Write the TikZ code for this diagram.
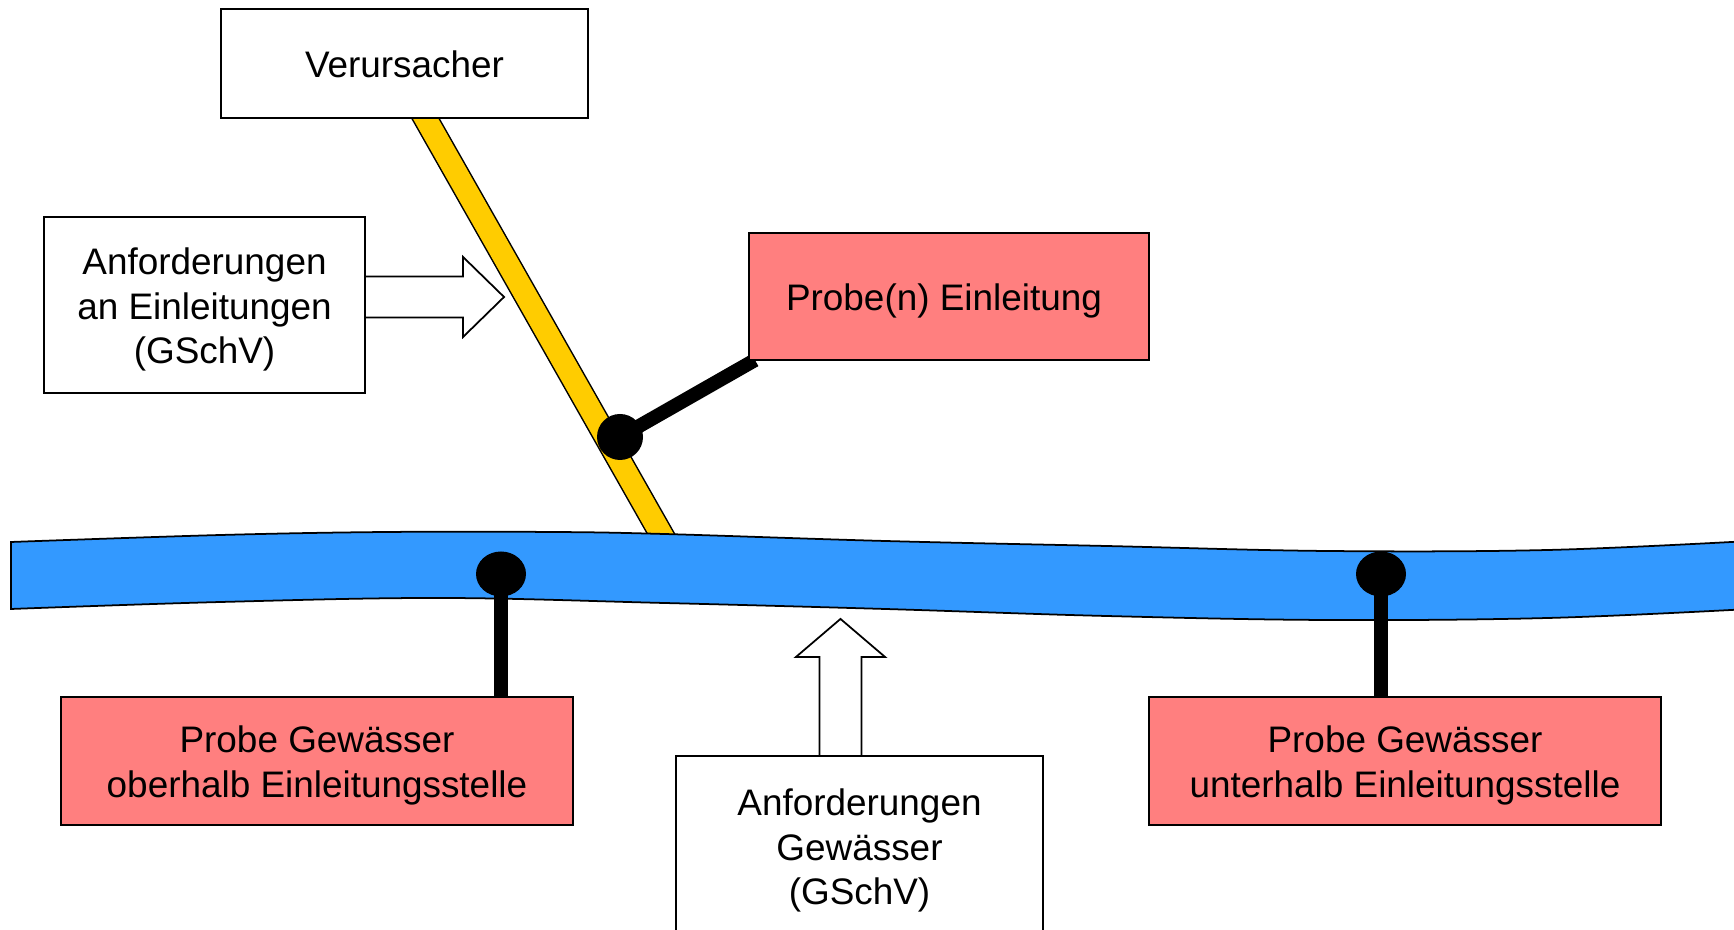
\documentclass[tikz,border=0pt]{standalone}
\usepackage{fontspec}
\setmainfont{Liberation Sans}
\usetikzlibrary{calc,shapes.geometric,backgrounds}
\definecolor{riverblue}{HTML}{3399FF}
\definecolor{pipeyellow}{HTML}{FFCC00}
\definecolor{probered}{HTML}{FF7F7F}
\newcommand{\boxtext}[1]{\raisebox{-1.5pt}[\height][\depth]{\begin{tabular}{@{}c@{}}#1\end{tabular}}}

\begin{document}
\begin{tikzpicture}[
  box/.style={draw, fill=white, line width=0.6pt, inner sep=0pt,
    font=\fontsize{10.5}{12.7}\selectfont},
  probebox/.style={box, fill=probered},
  stem/.style={line width=0.14cm},
  pipedot/.style={circle, fill=black, inner sep=0pt, minimum size=0.46cm},
  sampledot/.style={ellipse, fill=black, inner sep=0pt, minimum width=0.5cm, minimum height=0.45cm},
  blockarrow/.style={draw, fill=white, line width=0.5pt, line join=miter}
]
\useasboundingbox (0,0) rectangle (17.34,9.30);

\node[box, minimum width=3.67cm, minimum height=1.09cm] (verur) at (4.045,8.665) {\boxtext{Verursacher}};
\node[box, minimum width=3.21cm, minimum height=1.76cm] (anfE) at (2.045,6.25) {\boxtext{Anforderungen\\an Einleitungen\\(GSchV)}};
\node[probebox, minimum width=4.00cm, minimum height=1.27cm] (probeE) at (9.49,6.335) {\boxtext{Probe(n) Einleitung\kern0.1cm}};
\node[probebox, minimum width=5.12cm, minimum height=1.28cm] (oberhalb) at (3.17,1.69) {\boxtext{Probe Gewässer\\oberhalb Einleitungsstelle}};
\node[probebox, minimum width=5.12cm, minimum height=1.28cm] (unterhalb) at (14.05,1.69) {\boxtext{Probe Gewässer\\unterhalb Einleitungsstelle}};
\node[box, minimum width=3.67cm, minimum height=1.80cm] (anfG) at (8.595,0.84) {\boxtext{Anforderungen\\Gewässer\\(GSchV)}};

\node[pipedot] (dotE) at (6.20,4.93) {};
\node[sampledot] (dotL) at (5.01,3.56) {};
\node[sampledot] (dotR) at (13.81,3.56) {};

\coordinate (pipetop) at (4.15,8.30);
\coordinate (pipebot) at (6.73,3.75);

\begin{pgfonlayer}{background}
\draw[line width=0.25cm] (pipetop) -- (pipebot);
\draw[line width=0.22cm, pipeyellow] (pipetop) -- (pipebot);
\draw[fill=riverblue, line width=0.5pt]
  plot[smooth, tension=0.6] coordinates {(0.11,3.88) (2.21,3.95) (3.87,3.98) (5.53,3.98) (6.64,3.96) (8.85,3.89) (11.06,3.84) (13.27,3.79) (15.48,3.80) (17.50,3.89)}
  -- plot[smooth, tension=0.6] coordinates {(17.50,3.21) (15.48,3.12) (13.27,3.10) (11.06,3.14) (8.85,3.21) (6.64,3.27) (4.42,3.32) (2.21,3.28) (0.11,3.21)}
  -- cycle;
\draw[stem] (dotE.center) -- ($(probeE.south west)+(0.07,0.01)$);
\draw[stem] (dotL.center) -- (dotL |- oberhalb.north);
\draw[stem] (dotR.center) -- (dotR |- unterhalb.north);
\end{pgfonlayer}

\draw[blockarrow] ($(anfE.east)+(0,0.285)$) -- ++(0.97,0) -- ++(0,0.195) -- ++(0.41,-0.40)
  -- ++(-0.41,-0.40) -- ++(0,0.195) -- ++(-0.97,0);
\draw[blockarrow] ($(anfG.north)+(-0.40,0)$) -- ++(0,0.98) -- ++(-0.235,0) -- ++(0.445,0.38)
  -- ++(0.445,-0.38) -- ++(-0.235,0) -- ++(0,-0.98);
\end{tikzpicture}
\end{document}
